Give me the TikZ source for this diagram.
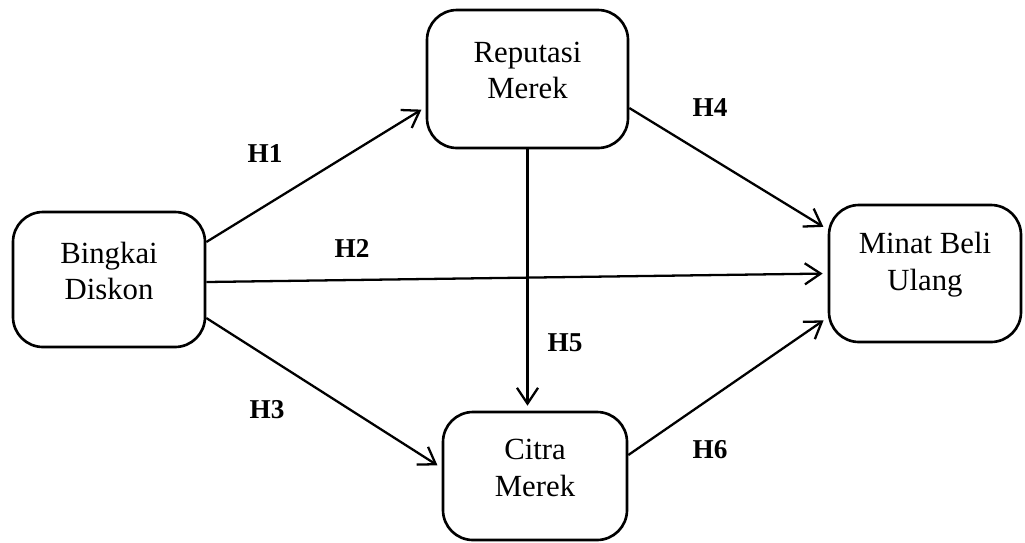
\documentclass[tikz,border=0pt]{standalone}
\usepackage{fontspec}
\setmainfont{Liberation Serif}
\usetikzlibrary{arrows.meta}
\tikzset{
  varbox/.style={draw, line width=1.5pt, rounded corners=0.6cm, inner sep=0pt},
  vartext/.style={align=center, font=\fontsize{17.5}{21}\selectfont},
  hyp/.style={font=\fontsize{15.5}{18}\selectfont\bfseries},
  path/.style={line width=1.3pt, -{Straight Barb[length=9pt,width=12pt,line width=1.3pt]}, shorten >=0.1cm}
}
\begin{document}
\begin{tikzpicture}
  \def\up{0.17}%
  \useasboundingbox (0,0) rectangle (20.5,-10.84);

  %variables:
  \node[varbox, minimum width=4.02cm, minimum height=2.76cm] (rep) at (10.55,-1.58) {};
  \node[varbox, minimum width=3.84cm, minimum height=2.70cm] (bin) at (2.18,-5.59) {};
  \node[varbox, minimum width=3.84cm, minimum height=2.74cm] (min) at (18.50,-5.47) {};
  \node[varbox, minimum width=3.68cm, minimum height=2.56cm] (cit) at (10.70,-9.52) {};
  \node[vartext] (reptext) at ([yshift=\up cm]rep.center) {Reputasi\\Merek};
  \node[vartext] (bintext) at ([yshift=\up cm]bin.center) {Bingkai\\Diskon};
  \node[vartext] (mintext) at ([yshift=\up cm]min.center) {Minat Beli\\Ulang};
  \node[vartext] (cittext) at ([yshift=\up cm]cit.center) {Citra\\Merek};

  %paths
  \draw[path] ([yshift=0.75cm]bin.east) -- ([yshift=-0.56cm]rep.west);
  \draw[path] ([yshift=-0.05cm]bin.east) -- (min.west);
  \draw[path] ([yshift=-0.77cm]bin.east) -- ([yshift=0.16cm]cit.west);
  \draw[path] ([yshift=-0.58cm]rep.east) -- ([yshift=0.88cm]min.west);
  \draw[path] (rep.south) -- (rep.south |- cit.north);
  \draw[path] ([yshift=0.42cm]cit.east) -- ([yshift=-0.88cm]min.west);

  %hypotheses
  \node[hyp] (h1) at (5.30,-3.06) {H1};
  \node[hyp] (h2) at (7.04,-4.96) {H2};
  \node[hyp] (h3) at (5.34,-8.20) {H3};
  \node[hyp] (h4) at (14.20,-2.16) {H4};
  \node[hyp] (h5) at (11.30,-6.86) {H5};
  \node[hyp] (h6) at (14.20,-9.00) {H6};
\end{tikzpicture}
\end{document}
